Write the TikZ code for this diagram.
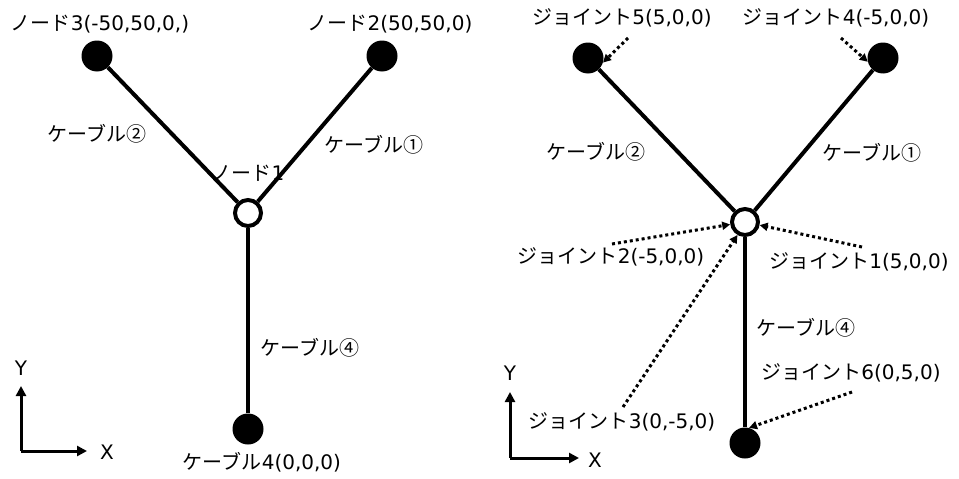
\documentclass[tikz,border=0pt]{standalone}
\usepackage{fontspec}
\setmainfont{DejaVu Sans}
\newfontfamily\jp{Noto Sans CJK JP}
\usetikzlibrary{arrows.meta, positioning}

\begin{document}
\begin{tikzpicture}[x=1pt, y=-1pt,
  endpt/.style={circle, fill=black, inner sep=0pt, minimum size=31pt},
  hub/.style={circle, draw, line width=4pt, fill=white, inner sep=0pt, minimum size=26pt},
  cable/.style={line width=4pt},
  ptr/.style={line width=3pt, dash pattern=on 3pt off 3pt,
              -{Triangle[length=8pt,width=8pt]}},
  axis/.style={line width=3pt, -{Triangle[length=10pt,width=10pt]}},
  lbl/.style={font=\fontsize{20}{24}\selectfont, inner sep=0pt}
]
\useasboundingbox (0,0) rectangle (959,479);

% left: nodes
\node[endpt] (nd3) at (97,56) {};
\node[endpt] (nd2) at (382,56) {};
\node[hub]   (nd1) at (248,213) {};
\node[endpt] (nd4) at (248,429) {};
\node[lbl] (nd3lbl) at (100,24) {{\jp ノード}3(-50,50,0,)};
\node[lbl] (nd2lbl) at (390,24) {{\jp ノード}2(50,50,0)};
\node[lbl] (nd1lbl) at (248,173) {{\jp ノード}1};
\node[lbl] (nd4lbl) at (262,462) {{\jp ケーブル}4(0,0,0)};
\node[lbl] (cb2) at (97,134) {\jp ケーブル②};
\node[lbl] (cb1) at (374,145) {\jp ケーブル①};
\node[lbl] (cb4) at (310,348) {\jp ケーブル④};
\draw[cable] (nd3) -- (nd1);
\draw[cable] (nd2) -- (nd1);
\draw[cable] (nd1) -- (nd4);

% left: axes
\coordinate (o1) at (21,451);
\coordinate (yt1) at (21,386);
\coordinate (xt1) at (87,451);
\node[lbl] (ylbl1) at (21,368) {Y};
\node[lbl] (xlbl1) at (107,452) {X};
\draw[axis] (o1) -- (yt1);
\draw[axis] (o1) -- (xt1);

% right: joints
\node[endpt] (jt5) at (588,58) {};
\node[endpt] (jt4) at (883,58) {};
\node[hub]   (hub) at (745,222) {};
\node[endpt] (jt6) at (745,443) {};
\node[lbl] (jt5lbl) at (622,18) {{\jp ジョイント}5(5,0,0)};
\node[lbl] (jt4lbl) at (836,18) {{\jp ジョイント}4(-5,0,0)};
\node[lbl] (jt2lbl) at (611,257) {{\jp ジョイント}2(-5,0,0)};
\node[lbl] (jt1lbl) at (859,262) {{\jp ジョイント}1(5,0,0)};
\node[lbl] (jt6lbl) at (851,373) {{\jp ジョイント}6(0,5,0)};
\node[lbl] (jt3lbl) at (622,422) {{\jp ジョイント}3(0,-5,0)};
\node[lbl] (rcb2) at (596,152) {\jp ケーブル②};
\node[lbl] (rcb1) at (872,153) {\jp ケーブル①};
\node[lbl] (rcb4) at (806,328) {\jp ケーブル④};
\draw[cable] (jt5) -- (hub);
\draw[cable] (jt4) -- (hub);
\draw[cable] (hub) -- (jt6);

% right: pointers
\coordinate (p5) at (628,38);
\coordinate (p4) at (841,38);
\coordinate (p2) at (612,244);
\coordinate (p1) at (862,247);
\coordinate (p3) at (623,407);
\coordinate (p6) at (852,392);
\draw[ptr] (p5) -- (jt5.-17);
\draw[ptr] (p4) -- (jt4.194);
\draw[ptr] (p2) -- (hub);
\draw[ptr] (p1) -- (hub);
\draw[ptr] (p3) -- (hub.240);
\draw[ptr] (p6) -- (jt6.75);

% right: axes
\coordinate (o2) at (510,458);
\coordinate (yt2) at (510,392);
\coordinate (xt2) at (579,458);
\node[lbl] (ylbl2) at (510,373) {Y};
\node[lbl] (xlbl2) at (595,460) {X};
\draw[axis] (o2) -- (yt2);
\draw[axis] (o2) -- (xt2);
\end{tikzpicture}
\end{document}
